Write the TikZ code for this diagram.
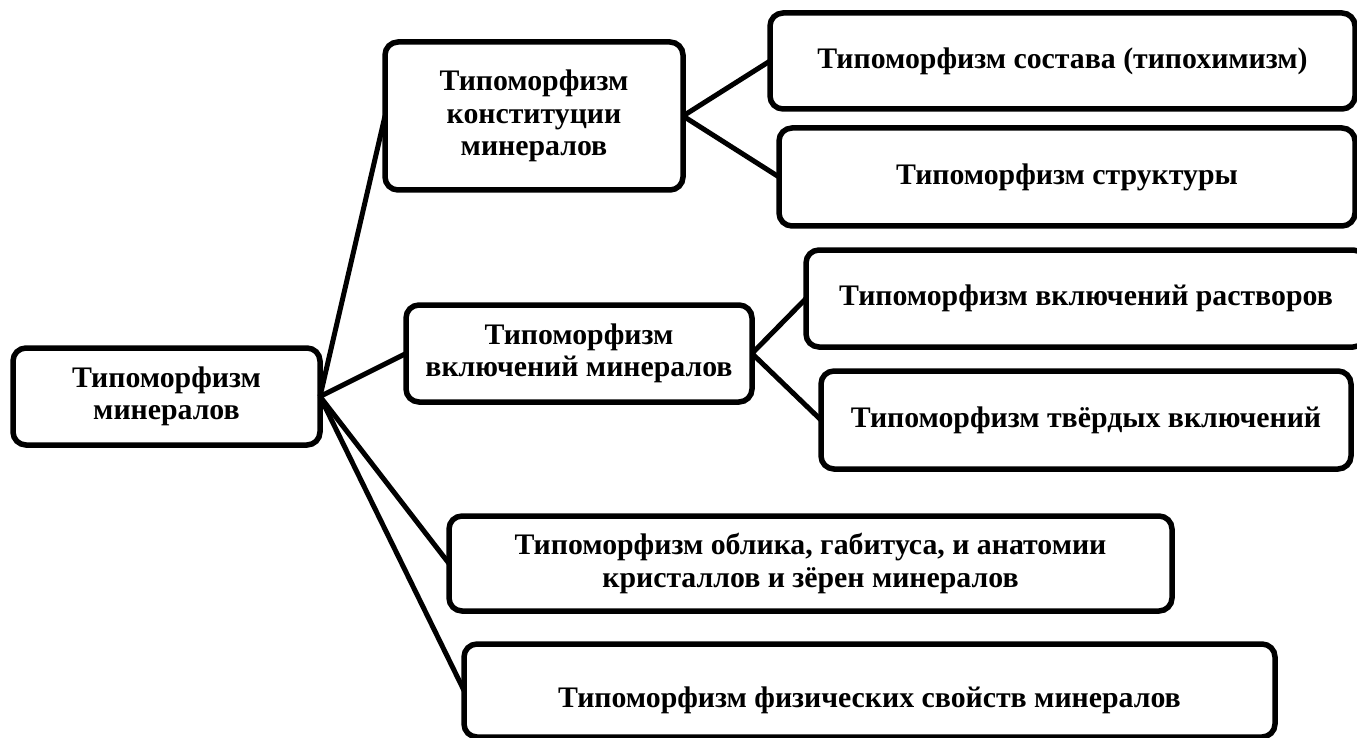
\documentclass[tikz,border=0pt]{standalone}
\usepackage{fontspec}
\setmainfont{Liberation Serif}
\begin{document}
\begin{tikzpicture}[x=1pt,y=-1pt,
  box/.style={draw=black, line width=5.5pt, rounded corners=13pt, align=center,
    font=\fontsize{29.8}{32.5}\selectfont\bfseries, inner sep=0pt, outer sep=0pt, fill=white},
  link/.style={draw=black, line width=5pt}]
\useasboundingbox (0,0) rectangle (1357,738);
\clip (0,0) rectangle (1357,738);
\fill[white] (0,0) rectangle (1357,738);
% nodes
\node[box, minimum width=307pt, minimum height=97pt] (root) at (166.5,396.5) {Типоморфизм\\минералов};
\node[box, minimum width=298pt, minimum height=148pt] (c1) at (534,116) {Типоморфизм\\конституции\\минералов};
\node[box, minimum width=585pt, minimum height=96pt] (c11) at (1062.5,61) {Типоморфизм состава (типохимизм)};
\node[box, minimum width=576pt, minimum height=98pt] (c12) at (1067,177) {Типоморфизм структуры};
\node[box, minimum width=346pt, minimum height=97pt] (c2) at (579,353.5) {Типоморфизм\\включений минералов};
\node[box, minimum width=560pt, minimum height=97pt] (c21) at (1086,298.5) {Типоморфизм включений растворов};
\node[box, minimum width=530pt, minimum height=98pt] (c22) at (1086,420) {Типоморфизм твёрдых включений};
\node[box, minimum width=723pt, minimum height=95pt] (c3) at (810.5,563.5) {Типоморфизм облика, габитуса, и анатомии\\кристаллов и зёрен минералов};
\node[box, minimum width=811pt, minimum height=93pt, text height=40pt, text depth=7pt] (c4) at (869.5,690.5) {Типоморфизм физических свойств минералов};
% connectors
\draw[link] (root.east) -- (c1.west);
\draw[link] (root.east) -- (c2.west);
\draw[link] (root.east) -- (c3.west);
\draw[link] (root.east) -- (c4.west);
\draw[link] (c1.east) -- (c11.west);
\draw[link] (c1.east) -- (c12.west);
\draw[link] (c2.east) -- (c21.west);
\draw[link] (c2.east) -- (c22.west);
\end{tikzpicture}
\end{document}
